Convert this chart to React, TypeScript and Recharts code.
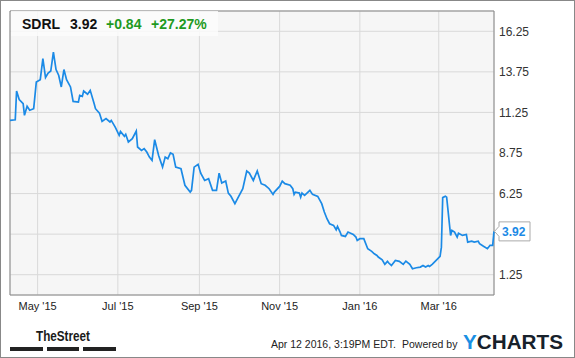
import { LineChart, Line, XAxis, YAxis, CartesianGrid, ReferenceArea, ReferenceDot } from "recharts";

// day 0 = Apr 10 2015, last point = Apr 12 2016
const days = [
  0, 4, 5, 7, 10, 11, 13, 15, 18, 20,
  23, 25, 27, 29, 31, 33, 35, 37, 39, 41,
  43, 46, 48, 52, 53, 55, 56, 59, 61, 64,
  65, 68, 70, 73, 76, 77, 80, 83, 84, 87,
  88, 90, 93, 96, 97, 100, 102, 104, 106, 108,
  110, 113, 116, 118, 120, 122, 124, 126, 130, 133,
  137, 138, 140, 143, 145, 148, 151, 154, 157, 159,
  161, 164, 166, 168, 171, 173, 177, 180, 182, 185,
  188, 191, 194, 197, 200, 201, 205, 207, 209, 213,
  215, 216, 217, 220, 221, 222, 224, 228, 230, 234,
  237, 239, 241, 243, 246, 248, 249, 251, 252, 255,
  257, 261, 263, 264, 266, 269, 272, 275, 277, 279,
  280, 283, 285, 287, 288, 290, 293, 296, 299, 301,
  304, 306, 309, 312, 314, 316, 318, 319, 321, 324,
  327, 328, 329, 331, 332, 335, 336, 338, 340, 341,
  344, 347, 348, 351, 353, 356, 357, 360, 363, 365,
  367, 368,
];

const prices = [
  10.76, 10.8, 12.57, 12.04, 11.79, 11.07, 11.63, 11.38, 11.48, 13.12,
  13.27, 14.57, 13.4, 13.68, 13.8, 14.97, 13.89, 13.54, 12.82, 13.89,
  13.27, 12.82, 11.93, 11.89, 12.3, 12.24, 12.57, 12.37, 12.61, 11.79,
  11.48, 11.21, 10.7, 10.87, 10.66, 10.76, 10.35, 9.84, 10.08, 9.78,
  9.9, 9.43, 9.63, 10.1, 9.12, 8.91, 9.02, 8.81, 8.5, 8.3,
  9.57, 8.6, 7.88, 8.5, 8.4, 8.75, 8.67, 7.88, 7.78, 6.76,
  6.34, 6.45, 7.88, 8.05, 7.51, 7.06, 7.17, 6.45, 6.45, 7.51,
  6.9, 7.02, 6.28, 6.08, 5.63, 5.94, 6.55, 7.64, 7.51, 7.06,
  7.64, 6.86, 6.76, 6.55, 6.2, 6.34, 6.69, 7.02, 6.86, 6.76,
  6.55, 6.2, 6.34, 6.28, 6.03, 6.28, 6.14, 6.45, 6.2, 6.08,
  5.63, 5.11, 4.7, 4.39, 4.29, 4.02, 4.23, 3.88, 3.67, 3.61,
  3.88, 3.73, 3.57, 3.36, 3.47, 3.47, 2.85, 2.69, 2.54, 2.44,
  2.34, 2.17, 1.89, 2.07, 1.97, 1.82, 2.13, 2.07, 1.89, 2.09,
  1.89, 1.62, 1.68, 1.72, 1.82, 1.72, 1.82, 1.76, 1.89, 2.13,
  2.38, 2.95, 6.0, 6.08, 6.03, 3.67, 3.98, 3.88, 3.57, 3.81,
  3.67, 3.73, 3.26, 3.32, 3.26, 3.32, 3.16, 3.0, 2.85, 3.06,
  3.06, 3.92,
];

const monthTicks = [21, 82, 144, 205, 266, 326];
const monthLabels = ["May '15", "Jul '15", "Sep '15", "Nov '15", "Jan '16", "Mar '16"];
const priceTicks = [1.25, 3.75, 6.25, 8.75, 11.25, 13.75, 16.25];

const ticker = "SDRL";
const lastPrice = 3.92;
const change = "+0.84";
const changePct = "+27.27%";

const data = days.map((d, i) => ({ day: d, price: prices[i] }));

const FONT = "Arial, 'Liberation Sans', sans-serif";
const BLUE = "#1b8ae6";

const LastPriceTag = (props: any) => {
  const { cx, cy } = props;
  const path = `M${cx + 5} ${cy - 9.5} H${cx + 36} V${cy + 9.5} H${cx + 5} V${cy + 5} L${cx + 0.5} ${cy} L${cx + 5} ${cy - 5} Z`;
  return (
    <g>
      <path d={path} fill="#fff" stroke="#aaa" strokeWidth={1} />
      <text x={cx + 8} y={cy + 4.5} fill={BLUE} fontSize={12} fontWeight="bold" fontFamily={FONT}>
        {lastPrice.toFixed(2)}
      </text>
    </g>
  );
};

// the last-price tag sits over the nearest tick label, which the source hides
const priceLabel = (v: number) => (Math.abs(v - lastPrice) < 0.6 ? "" : v.toFixed(2));

export default function App() {
  return (
    <div style={{ position: "absolute", left: 0, top: 0, width: 575, height: 358, background: "#fff" }}>
      <LineChart width={575} height={358} data={data} margin={{ top: 11, right: 0, bottom: 43, left: 10 }}>
        <CartesianGrid stroke="#d9d9d9" fill="#f6f6f6" fillOpacity={1} />
        <XAxis
          dataKey="day"
          type="number"
          domain={[0, 368]}
          ticks={monthTicks}
          tickFormatter={(v: number) => monthLabels[monthTicks.indexOf(v)]}
          axisLine={false}
          tickLine={false}
          tickSize={0}
          tickMargin={7}
          height={20}
          tick={{ fill: "#222", fontSize: 11, fontFamily: FONT }}
        />
        <YAxis
          orientation="right"
          type="number"
          domain={[0, 17.5]}
          ticks={priceTicks}
          interval={0}
          tickFormatter={priceLabel}
          axisLine={false}
          tickLine={false}
          tickSize={0}
          tickMargin={5}
          width={81}
          tick={{ fill: "#333", fontSize: 12, fontFamily: FONT }}
        />
        <ReferenceArea x1={0} x2={368} y1={0} y2={17.5} fill="none" stroke="#888" strokeWidth={1} />
        <Line
          type="linear"
          dataKey="price"
          stroke={BLUE}
          strokeWidth={1.7}
          dot={false}
          isAnimationActive={false}
        />
        <ReferenceDot x={368} y={lastPrice} r={0} shape={LastPriceTag} />
      </LineChart>

      <svg
        width={575}
        height={358}
        style={{ position: "absolute", left: 0, top: 0, pointerEvents: "none" }}
        fontFamily={FONT}
      >
        <rect x={0.5} y={0.5} width={574} height={357} fill="none" stroke="#888" />
        {/* quote header */}
        <rect x={11} y={11} width={207} height={25} fill="#fbfbfb" fillOpacity={0.85} />
        <text x={22} y={29} fontSize={14} fontWeight="bold" fill="#111">{ticker}</text>
        <text x={70} y={29} fontSize={14} fontWeight="bold" fill="#111">{lastPrice.toFixed(2)}</text>
        <text x={106} y={29} fontSize={14} fontWeight="bold" fill="#1f9a1f">{change}</text>
        <text x={151} y={29} fontSize={14} fontWeight="bold" fill="#1f9a1f">{changePct}</text>

        {/* footer */}
        <text x={36} y={341} fontSize={15} fontWeight="bold" fill="#1a1a1a" textLength={54} lengthAdjust="spacingAndGlyphs">
          TheStreet
        </text>
        <rect x={10} y={347} width={33} height={4} fill="#222" />
        <rect x={47} y={347} width={32} height={4} fill="#222" />
        <rect x={83} y={347} width={33} height={4} fill="#222" />
        <text x={271} y={348} fontSize={10.5} fill="#222">
          Apr 12 2016, 3:19PM EDT.
        </text>
        <text x={402} y={348} fontSize={10.5} fill="#222">
          Powered by
        </text>
        <text x={463} y={349} fontSize={19.5} fontWeight="bold" textLength={100} lengthAdjust="spacingAndGlyphs">
          <tspan fill="#1a8fe3">Y</tspan>
          <tspan fill="#17212b">CHARTS</tspan>
        </text>
      </svg>
    </div>
  );
}
